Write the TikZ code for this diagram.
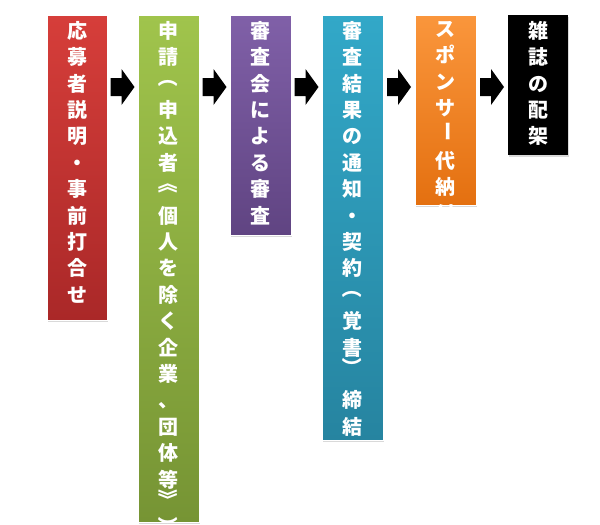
\documentclass[tikz,border=0pt]{standalone}
\usepackage{fontspec}
\newfontfamily\jp{Noto Sans CJK JP}
\usetikzlibrary{shadows}
\newcommand{\rv}[1]{\raisebox{0pt}[0.8em][0.2em]{\makebox[1em]{\raisebox{0.3em}{\smash{\rotatebox[origin=c]{-90}{#1}}}}}}
\tikzset{
  stepBox/.style={draw=white, line width=0.6pt, drop shadow={shadow xshift=1pt, shadow yshift=-2pt, opacity=0.3}},
  stepText/.style={anchor=north, text=white, align=center, inner sep=0pt,
    font={\jp\bfseries\fontsize{20}{26.4}\selectfont\lineskiplimit=-30pt\lineskip=0pt}},
  flowArrow/.style={fill=black, shift={#1}}
}
\begin{document}
\begin{tikzpicture}[x=1pt, y=-1pt]
  \useasboundingbox (0,0) rectangle (600,525);

  % --- caixas ---
  \shade[stepBox, top color={rgb,255:red,214;green,62;blue,58}, bottom color={rgb,255:red,170;green,40;blue,40}]
    (47,15) rectangle (107,320);
  \shade[stepBox, top color={rgb,255:red,160;green,196;blue,76}, bottom color={rgb,255:red,118;green,148;blue,52}]
    (138,15) rectangle (199,522);
  \shade[stepBox, top color={rgb,255:red,128;green,96;blue,168}, bottom color={rgb,255:red,96;green,68;blue,130}]
    (230,15) rectangle (291,235);
  \shade[stepBox, top color={rgb,255:red,50;green,168;blue,200}, bottom color={rgb,255:red,38;green,132;blue,160}]
    (322,15) rectangle (383,440);
  \shade[stepBox, top color={rgb,255:red,250;green,150;blue,60}, bottom color={rgb,255:red,228;green,112;blue,16}]
    (415,15) rectangle (476,205);
  \fill[black, drop shadow={shadow xshift=1pt, shadow yshift=-2pt, opacity=0.3}]
    (508,15) rectangle (568,155);

  % --- textos ---
  \node[stepText] (t1) at (77,21) {応\\募\\者\\説\\明\\・\\事\\前\\打\\合\\せ};
  \node[stepText] (t2) at (168.5,21) {申\\請\\\rv{（}\\申\\込\\者\\\rv{《}\\個\\人\\を\\除\\く\\企\\業\\、\\団\\体\\等\\\rv{》}\\\rv{）}};
  \node[stepText] (t3) at (260.5,21) {審\\査\\会\\に\\よ\\る\\審\\査};
  \node[stepText] (t4) at (352.5,21) {審\\査\\結\\果\\の\\通\\知\\・\\契\\約\\\rv{（}\\覚\\書\\\rv{）}\\締\\結};
  \node[stepText] (t5) at (445.5,21) {ス\\ポ\\ン\\サ\\\rv{ー}\\代\\納\\付};
  \node[stepText] (t6) at (538,21) {雑\\誌\\の\\配\\架};

  % --- setas ---
  \foreach \ax in {122.5,214.5,306.5,399,492}
    \fill[flowArrow={(\ax,87)}] (-12,-9) -- (-1,-9) -- (-1,-18) -- (12,0) -- (-1,18) -- (-1,9) -- (-12,9) -- cycle;
\end{tikzpicture}
\end{document}
